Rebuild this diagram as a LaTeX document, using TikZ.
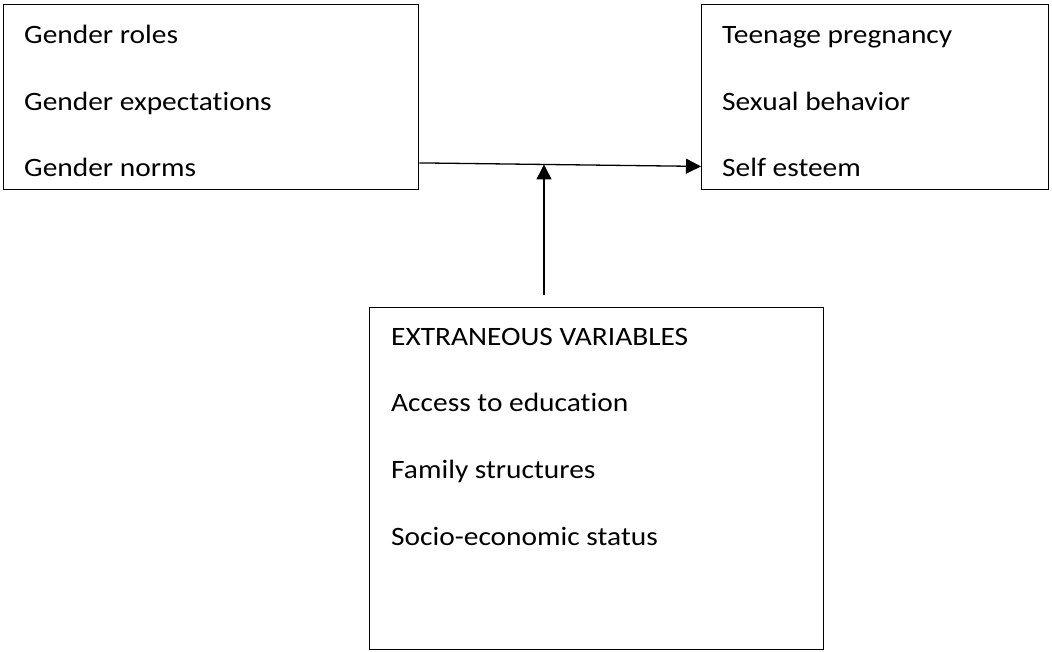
\documentclass[tikz,border=0pt]{standalone}
\usepackage{fontspec}
\setmainfont{Carlito}[Ligatures=NoCommon, FakeStretch=1.11]
\usetikzlibrary{arrows.meta}
\tikzset{
  box/.style={draw=black, line width=1.4pt, inner sep=0pt, anchor=north west, fill=none},
  lbl/.style={anchor=base west, inner sep=0pt, font=\fontsize{26.5pt}{30pt}\selectfont},
  conn/.style={draw=black, line width=1.3pt, -{Triangle[length=15pt,width=15pt]}}
}
\begin{document}
\begin{tikzpicture}[x=1pt,y=1pt]
\useasboundingbox[fill=white] (0,0) rectangle (1052,-651);
% boxes
\node[box, minimum width=415pt, minimum height=185pt] (L) at (3,-4) {};
\node[box, minimum width=347pt, minimum height=185pt] (R) at (701,-4) {};
\node[box, minimum width=454pt, minimum height=342pt] (B) at (369,-307) {};
% left texts
\node[lbl] (l1) at (24,-43.5) {Gender roles};
\node[lbl] (l2) at (24,-110) {Gender expectations};
\node[lbl] (l3) at (24,-176.5) {Gender norms};
% right texts
\node[lbl] (r1) at (722,-43.5) {Teenage pregnancy};
\node[lbl] (r2) at (722,-110) {Sexual behavior};
\node[lbl] (r3) at (722,-176.5) {Self esteem};
% bottom texts
\node[lbl] (b1) at (391,-345) {EXTRANEOUS VARIABLES};
\node[lbl] (b2) at (391,-411.7) {Access to education};
\node[lbl] (b3) at (391,-478.3) {Family structures};
\node[lbl] (b4) at (391,-545) {Socio-economic status};
% connectors
\coordinate (hs) at ([yshift=27.5pt]L.south east);
\coordinate (he) at ([yshift=24pt]R.south west);
\draw[conn] (hs) -- (he);
\path (hs) -- (he) coordinate[pos=0.445] (mid);
\coordinate (vs) at ([yshift=12.5pt,xshift=175pt]B.north west);
\draw[conn] (vs) -- (vs |- mid);
\end{tikzpicture}
\end{document}
